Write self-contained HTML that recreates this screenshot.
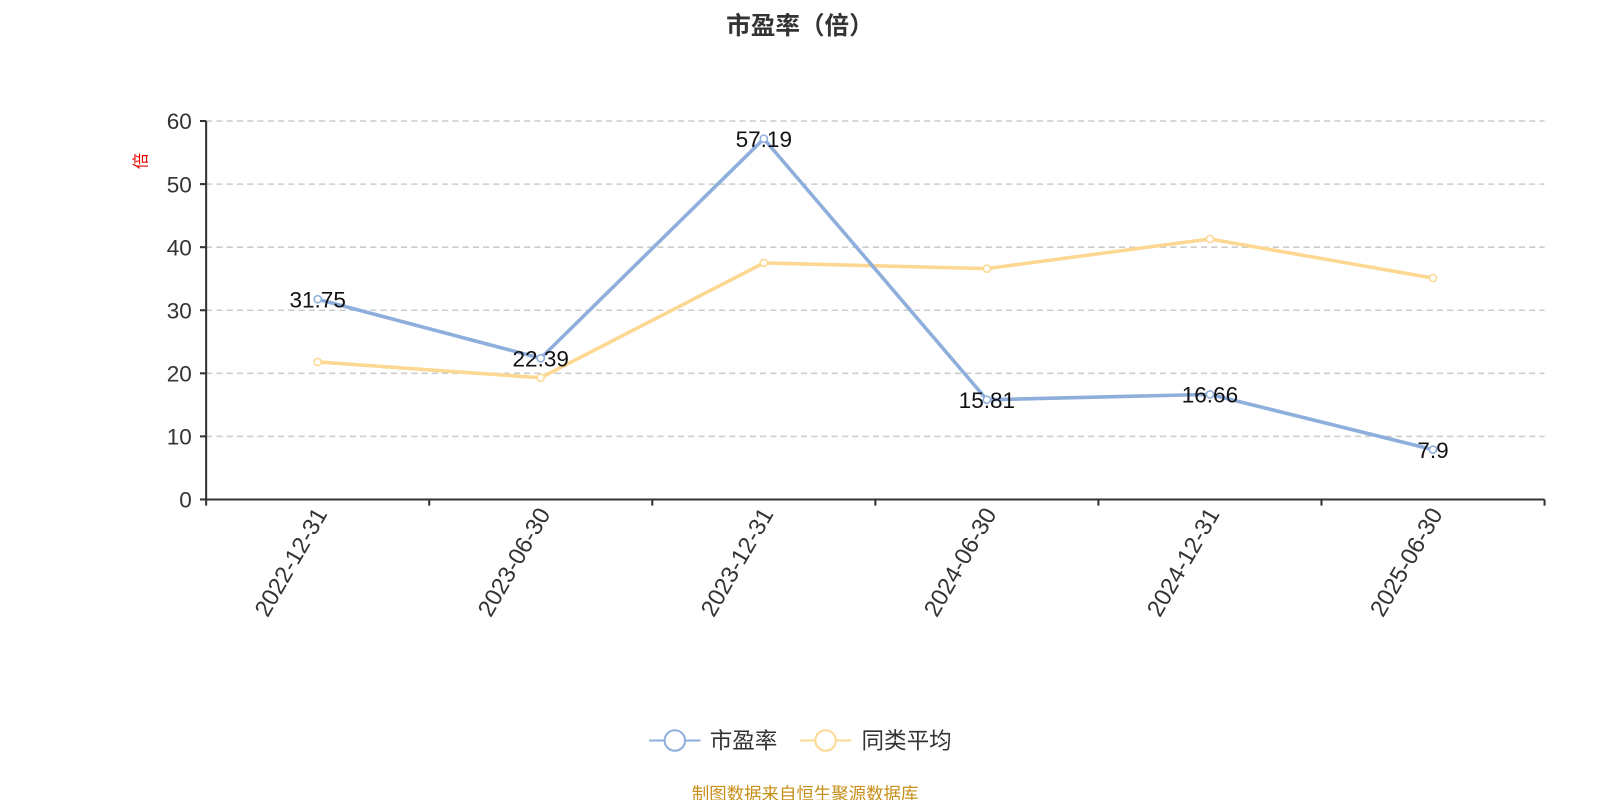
<!DOCTYPE html>
<html><head><meta charset="utf-8"><style>
body{margin:0;background:#fff;width:1600px;height:800px;overflow:hidden}
svg{font-family:"Liberation Sans","Noto Sans CJK SC",sans-serif}
</style></head><body>
<svg id="c" width="1600" height="800">
<g transform="scale(1.0256)">
<text x="780" y="33" text-anchor="middle" font-size="24" font-weight="bold" fill="#333">市盈率（倍）</text>
<text transform="translate(143,157) rotate(-90)" text-anchor="middle" font-size="16" fill="#e00">倍</text>
<g id="grid"></g><g id="axes"></g><g id="series"></g>
<g>
<g><line x1="633" y1="722" x2="683" y2="722" stroke="#8eaedb" stroke-width="2"/><circle cx="658" cy="722" r="10" fill="#fff" stroke="#8eaedb" stroke-width="2"/><text x="692" y="730" font-size="22" fill="#333">市盈率</text></g>
<g><line x1="780" y1="722" x2="830" y2="722" stroke="#fdd892" stroke-width="2"/><circle cx="805" cy="722" r="10" fill="#fff" stroke="#fdd892" stroke-width="2"/><text x="840" y="730" font-size="22" fill="#333">同类平均</text></g>
</g>
<text x="785" y="780" text-anchor="middle" font-size="17" fill="#c8901a">制图数据来自恒生聚源数据库</text>
</g>
</svg>
<script>
const categories=["2022-12-31","2023-06-30","2023-12-31","2024-06-30","2024-12-31","2025-06-30"];
const peValues=[31.75,22.39,57.19,15.81,16.66,7.9];
const avgValues=[21.8,19.3,37.5,36.6,41.3,35.1];
const yTicks=[0,10,20,30,40,50,60];
const NS="http://www.w3.org/2000/svg";
const x0=201,x1=1506,y0=487,y1=118,yMax=60;
const bw=(x1-x0)/categories.length;
const X=i=>x0+bw*(i+0.5);
const Y=v=>y0-(v/yMax)*(y0-y1);
function mk(tag,attrs,parent){const e=document.createElementNS(NS,tag);for(const k in attrs)e.setAttribute(k,attrs[k]);parent.appendChild(e);return e;}
const grid=document.getElementById('grid'),axes=document.getElementById('axes'),ser=document.getElementById('series');
yTicks.forEach(t=>{
 if(t>0){const g=mk('line',{x1:x0,x2:x1,y1:Y(t),y2:Y(t),stroke:'#ccc','stroke-dasharray':'6,4','stroke-width':1.5},grid);
 
 }
 const tk=mk('line',{x1:x0-6,x2:x0,y1:Y(t),y2:Y(t),stroke:'#333','stroke-width':2},axes);
 
 
 const lb=mk('text',{x:x0-14,y:Y(t)+8,'text-anchor':'end','font-size':22,fill:'#333'},axes);
 lb.textContent=t;
 
 
});
const ya=mk('line',{x1:x0,x2:x0,y1:y1,y2:y0,stroke:'#333','stroke-width':2},axes);


const xa=mk('line',{x1:x0,x2:x1,y1:y0,y2:y0,stroke:'#333','stroke-width':2},axes);


for(let i=0;i<=categories.length;i++){
 const t=mk('line',{x1:x0+bw*i,x2:x0+bw*i,y1:y0,y2:y0+6,stroke:'#333','stroke-width':2},axes);
 
 
}
categories.forEach((c,i)=>{
 const t=mk('text',{transform:`translate(${X(i)+10},${y0+14}) rotate(-60)`,'text-anchor':'end','font-size':23,fill:'#333'},axes);
 t.textContent=c;
 
 
});
function series(vals,color,name,labels){
 const p=mk('polyline',{points:vals.map((v,i)=>X(i)+','+Y(v)).join(' '),fill:'none',stroke:color,'stroke-width':3.5,'stroke-linejoin':'round'},ser);
 
 
 vals.forEach((v,i)=>{
  const c=mk('circle',{cx:X(i),cy:Y(v),r:3.5,fill:'#fff',stroke:color,'stroke-width':1.5},ser);
  
  
  if(labels){const t=mk('text',{x:X(i),y:Y(v)+8,'text-anchor':'middle','font-size':22,fill:'#111'},ser);
   t.textContent=v;
   
   }
 });
}
series(avgValues,'#fdd892','peer-average',false);
series(peValues,'#8eaedb','pe',true);
</script>
</body></html>
